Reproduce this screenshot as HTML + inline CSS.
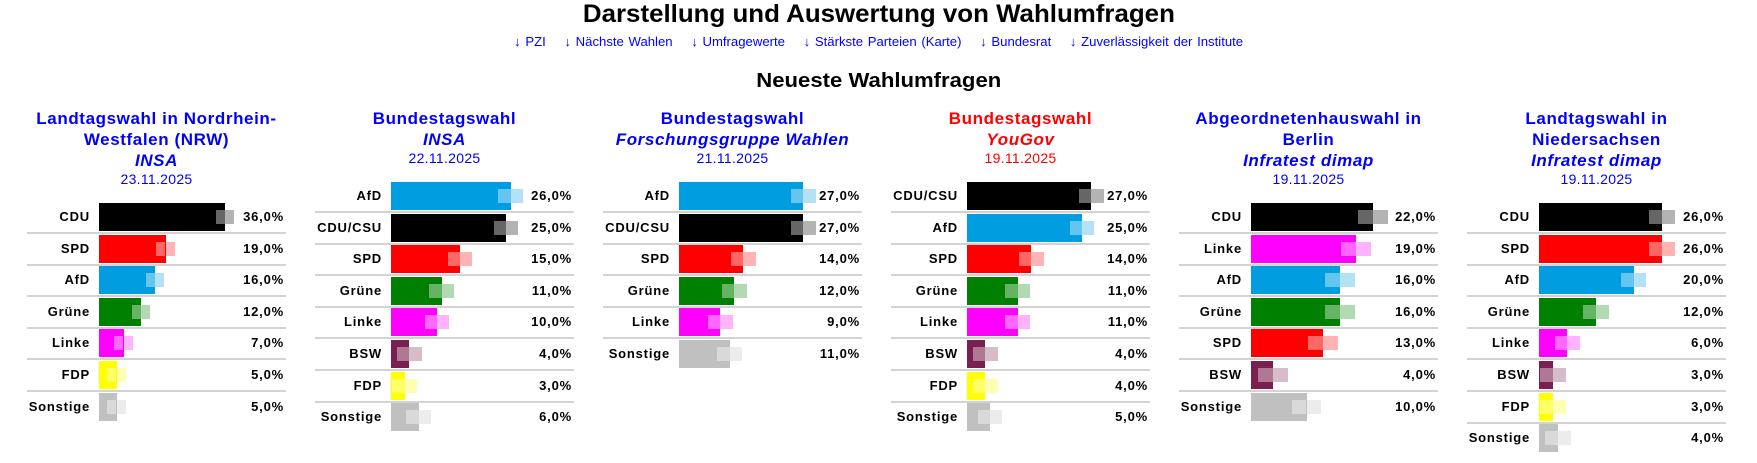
<!DOCTYPE html>
<html><head><meta charset="utf-8">
<style>
html,body{margin:0;padding:0;background:#fff;}
body{width:1757px;height:463px;position:relative;overflow:hidden;font-family:"Liberation Sans",Arial,sans-serif;}
.abs{position:absolute;white-space:nowrap;}
.c{transform-origin:center center;}
#t{left:0;width:1757px;text-align:center;top:0;font-size:25px;font-weight:bold;line-height:28px;}
#l{left:0;width:1757px;text-align:center;top:33px;font-size:13px;color:#0000ff;line-height:18px;word-spacing:1px;}
#s{left:0;width:1757px;text-align:center;top:68px;font-size:20px;font-weight:bold;line-height:26px;}
.h{font-size:17px;font-weight:bold;letter-spacing:.6px;text-align:center;width:259px;line-height:21px;}
.d{font-size:14px;letter-spacing:.3px;text-align:center;width:259px;line-height:18px;}
.lab{font-size:13px;font-weight:bold;letter-spacing:.8px;text-align:right;line-height:28px;}
.pct{font-size:13px;font-weight:bold;letter-spacing:.8px;text-align:right;line-height:28px;}
.sep{position:absolute;height:2px;background:#d3d3d3;width:259px;}
</style></head><body>
<div id="t" class="abs">Darstellung und Auswertung von Wahlumfragen</div>
<div id="l" class="abs">↓ PZI &nbsp;&nbsp; ↓ Nächste Wahlen &nbsp;&nbsp; ↓ Umfragewerte &nbsp;&nbsp; ↓ Stärkste Parteien (Karte) &nbsp;&nbsp; ↓ Bundesrat &nbsp;&nbsp; ↓ Zuverlässigkeit der Institute</div>
<div id="s" class="abs">Neueste Wahlumfragen</div>
<div id="root"></div>
<script>
var col={"CDU":"#000000","CDU/CSU":"#000000","SPD":"#ff0000","AfD":"#009ee0","Grüne":"#008000","Linke":"#ff00ff","FDP":"#ffff00","BSW":"#7a1f4f","Sonstige":"#c0c0c0"};
var P=[
{t:["Landtagswahl in Nordrhein-","Westfalen (NRW)"],i:"INSA",d:"23.11.2025",c:"#0000ff",off:72,sc:3.5,r:[["CDU",36],["SPD",19],["AfD",16],["Grüne",12],["Linke",7],["FDP",5],["Sonstige",5]]},
{t:["Bundestagswahl"],i:"INSA",d:"22.11.2025",c:"#0000ff",off:76,sc:4.6,r:[["AfD",26],["CDU/CSU",25],["SPD",15],["Grüne",11],["Linke",10],["BSW",4],["FDP",3],["Sonstige",6]]},
{t:["Bundestagswahl"],i:"Forschungsgruppe Wahlen",d:"21.11.2025",c:"#0000ff",off:76,sc:4.6,r:[["AfD",27],["CDU/CSU",27],["SPD",14],["Grüne",12],["Linke",9],["Sonstige",11]]},
{t:["Bundestagswahl"],i:"YouGov",d:"19.11.2025",c:"#ff0000",off:76,sc:4.6,r:[["CDU/CSU",27],["AfD",25],["SPD",14],["Grüne",11],["Linke",11],["BSW",4],["FDP",4],["Sonstige",5]]},
{t:["Abgeordnetenhauswahl in","Berlin"],i:"Infratest dimap",d:"19.11.2025",c:"#0000ff",off:72,sc:5.55,r:[["CDU",22],["Linke",19],["AfD",16],["Grüne",16],["SPD",13],["BSW",4],["Sonstige",10]]},
{t:["Landtagswahl in","Niedersachsen"],i:"Infratest dimap",d:"19.11.2025",c:"#0000ff",off:72,sc:4.73,r:[["CDU",26],["SPD",26],["AfD",20],["Grüne",12],["Linke",6],["BSW",3],["FDP",3],["Sonstige",4]]}
];
function mix(h,a){var n=parseInt(h.slice(1),16),r=n>>16,g=(n>>8)&255,b=n&255;function m(v){return Math.round(v+(255-v)*a);}return "rgb("+m(r)+","+m(g)+","+m(b)+")";}
var H="";
P.forEach(function(p,k){
 var x0=27+288*k, y=107.5;
 p.t.forEach(function(s){H+='<div class="abs h" style="left:'+x0+'px;top:'+y+'px;color:'+p.c+'">'+s+'</div>';y+=21;});
 H+='<div class="abs h" style="left:'+x0+'px;top:'+y+'px;color:'+p.c+';font-style:italic">'+p.i+'</div>';y+=21;
 H+='<div class="abs d" style="left:'+x0+'px;top:'+(y-1)+'px;color:'+p.c+'">'+p.d+'</div>';
 var by=p.t.length==2?203:182;
 p.r.forEach(function(r,i){
  var top=by+i*31.6, c=col[r[0]], w=r[1]*p.sc, bx=x0+p.off, gw=p.sc*5.4, gs=bx+w-gw/2;
  H+='<div class="abs lab" style="left:'+x0+'px;width:'+(p.off-9)+'px;top:'+top+'px">'+r[0]+'</div>';
  H+='<div class="abs" style="left:'+bx+'px;top:'+top+'px;width:'+w+'px;height:28px;background:'+c+'"></div>';
  H+='<div class="abs" style="left:'+gs+'px;top:'+(top+7)+'px;width:'+(gw/2)+'px;height:14px;background:'+mix(c,0.4)+'"></div>';
  H+='<div class="abs" style="left:'+(bx+w)+'px;top:'+(top+7)+'px;width:'+(gw/2)+'px;height:14px;background:'+mix(c,0.7)+'"></div>';
  H+='<div class="abs pct" style="left:'+x0+'px;width:257px;top:'+top+'px">'+r[1]+',0%</div>';
  if(i<p.r.length-1)H+='<div class="sep" style="left:'+x0+'px;top:'+(top+29)+'px"></div>';
 });
});
document.getElementById("root").innerHTML=H;
function fit(id,w){var e=document.getElementById(id);var s=document.createElement("span");s.innerHTML=e.innerHTML;e.innerHTML="";e.appendChild(s);s.style.display="inline-block";var cw=s.getBoundingClientRect().width;s.style.transform="scaleX("+(w/cw)+")";}
fit("t",592);fit("l",729);fit("s",245);
</script>
</body></html>
